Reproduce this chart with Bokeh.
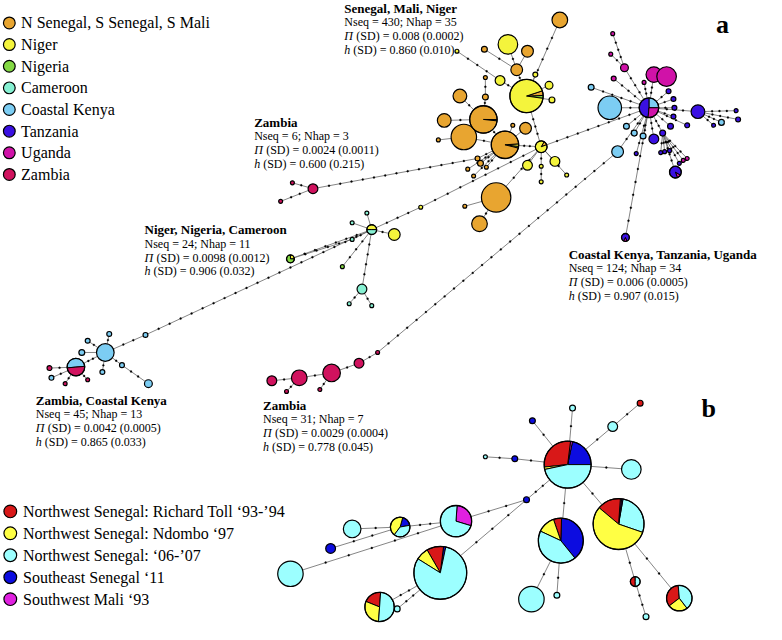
import math
from bokeh.plotting import figure
from bokeh.models import Range1d
from bokeh.core.properties import value
from bokeh.embed import file_html
from bokeh.resources import INLINE

FONT = value("Liberation Serif")

# ---------------- colours ----------------
colors_a = {"O": "#E8A530", "Y": "#F4F43C", "G": "#84D944", "C": "#86F0D2",
            "K": "#7CCDF3", "T": "#3A10E2", "U": "#D012A8", "Z": "#D0125E"}
colors_b = {"R": "#D81818", "Yb": "#FFFF44", "Cb": "#9CFFFF", "B": "#0C0CE0", "M": "#E020E0"}

legend_a_keys = ["O", "Y", "G", "C", "K", "T", "U", "Z"]
legend_a_labels = ["N Senegal, S Senegal, S Mali", "Niger", "Nigeria", "Cameroon",
                   "Coastal Kenya", "Tanzania", "Uganda", "Zambia"]
legend_b_keys = ["R", "Yb", "Cb", "B", "M"]
legend_b_labels = ["Northwest Senegal: Richard Toll \u201893-\u201994",
                   "Northwest Senegal: Ndombo \u201897",
                   "Northwest Senegal: \u201806-\u201907",
                   "Southeast Senegal \u201811",
                   "Southwest Mali \u201893"]

# ---------------- panel a: haplotypes (name, x, y, radius, colour key or "pie") ----------------
senegal_nodes = [
    ("a1", 571, 20, 8, "O"), ("a2", 518, 45, 10, "Y"), ("a3", 494, 50, 3, "O"),
    ("a4", 538, 52, 6, "O"), ("a5", 527, 71, 6, "O"), ("a6", 510, 82, 5, "Y"),
    ("a7", 546, 76, 2.5, "Y"), ("a8", 537, 98, 17, "pie"), ("a9", 560, 87, 4, "Y"),
    ("a10", 563, 102, 3, "Y"), ("a11", 495, 79, 2, "O"), ("a12", 495, 99, 3, "O"),
    ("a13", 469, 98, 7, "O"), ("a14", 493, 122, 14, "pie"), ("a15", 453, 123, 7, "O"),
    ("a16", 473, 140, 13, "O"), ("a17", 515, 148, 14, "pie"), ("a18", 536, 131, 6, "O"),
    ("a19", 523, 128, 2, "O"), ("a20", 447, 143, 2, "O"), ("a21", 552, 150, 6, "pie"),
    ("a22", 538, 169, 5, "Y"), ("a23", 566, 165, 5, "Y"), ("a24", 552, 170, 2, "Y"),
    ("a25", 552, 186, 2, "Y"), ("a26", 578, 179, 2, "Y"), ("a27", 487, 162, 2.5, "O"),
    ("a28", 490, 167, 3, "O"), ("a29", 496, 171, 2, "O"), ("a30", 477, 173, 2, "O"),
    ("a31", 483, 180, 2, "O"), ("a32", 506, 202, 15, "O"), ("a33", 489, 229, 8, "O"),
    ("a34", 474, 211, 2, "O"), ("a35", 466, 52, 2, "Y"), ("a36", 429, 212, 2, "Y"),
]
west_central_nodes = [
    ("a37", 379, 235, 5, "pie"), ("a38", 402, 240, 6, "Y"), ("a39", 374, 218, 2, "C"),
    ("a40", 359, 228, 2, "C"), ("a41", 359, 245, 2, "C"), ("a42", 296, 265, 4, "pie"),
    ("a43", 349, 273, 2, "G"), ("a44", 369, 296, 5, "C"), ("a45", 356, 311, 2, "C"),
    ("a46", 379, 313, 2, "C"),
]
zambia_north_nodes = [("a47", 319, 193, 5, "Z"), ("a48", 298, 187, 2, "Z"), ("a49", 286, 206, 2, "Z")]
zambia_kenya_nodes = [
    ("a50", 107, 361, 9, "K"), ("a51", 77, 376, 9, "pie"), ("a52", 111, 342, 2.5, "K"),
    ("a53", 89, 349, 2.5, "K"), ("a54", 83, 361, 3, "K"), ("a55", 104, 381, 2.5, "K"),
    ("a56", 124, 374, 2.5, "K"), ("a57", 151, 393, 4, "K"), ("a58", 52, 387, 2.5, "K"),
    ("a59", 148, 343, 2.5, "K"), ("a60", 50, 377, 2.5, "Z"), ("a61", 66, 393, 2, "Z"),
    ("a62", 89, 389, 2, "Z"),
]
zambia_south_nodes = [
    ("a63", 277, 390, 5, "Z"), ("a64", 305, 387, 8, "Z"), ("a65", 338, 382, 9, "Z"),
    ("a66", 366, 372, 5, "Z"), ("a67", 385, 361, 2, "Z"), ("a68", 292, 401, 2, "Z"),
    ("a69", 326, 399, 2, "Z"),
]
east_nodes = [
    ("a70", 662, 110, 10, "pie"), ("a71", 622, 110, 12, "K"), ("a72", 667, 76, 8, "U"),
    ("a73", 680, 78, 10, "U"), ("a74", 637, 69, 4, "U"), ("a75", 625, 34, 2, "U"),
    ("a76", 623, 55, 2, "U"), ("a77", 626, 80, 2.5, "U"), ("a78", 657, 84, 2, "U"),
    ("a79", 603, 89, 3, "K"), ("a80", 712, 114, 7, "T"), ("a81", 751, 113, 2, "T"),
    ("a82", 753, 122, 2.5, "T"), ("a83", 728, 128, 2, "T"), ("a84", 736, 125, 3, "K"),
    ("a85", 682, 93, 2.5, "T"), ("a86", 687, 101, 2.5, "T"), ("a87", 688, 110, 2.5, "T"),
    ("a88", 687, 119, 2.5, "T"), ("a89", 701, 128, 2.5, "T"), ("a90", 684, 129, 3, "T"),
    ("a91", 639, 129, 3, "K"), ("a92", 647, 136, 3, "K"), ("a93", 656, 139, 3, "K"),
    ("a94", 667, 142, 5, "T"), ("a95", 676, 136, 3, "T"), ("a96", 674, 156, 2, "T"),
    ("a97", 678, 155, 2, "T"), ("a98", 683, 154, 2, "T"), ("a99", 693, 167, 2, "T"),
    ("a100", 697, 164, 2, "U"), ("a101", 701, 162, 2, "U"), ("a102", 689, 176, 6, "pie"),
    ("a103", 649, 157, 2, "T"), ("a104", 630, 155, 6, "K"), ("a105", 638, 243, 4, "pie"),
]
# pie compositions: start angle (deg, counter-clockwise) and fractions
a_pies = {
    "a8": (-8, [("G", 0.028), ("O", 0.045), ("Y", 0.927)]),
    "a14": (-6, [("Y", 0.015), ("O", 0.985)]),
    "a17": (-14, [("G", 0.02), ("Y", 0.03), ("O", 0.95)]),
    "a21": (20, [("O", 0.11), ("Y", 0.89)]),
    "a37": (0, [("Y", 0.5), ("C", 0.5)]),
    "a42": (0, [("Y", 0.25), ("G", 0.75)]),
    "a51": (5, [("K", 0.5), ("Z", 0.5)]),
    "a70": (0, [("K", 0.25), ("T", 0.486), ("U", 0.264)]),
    "a102": (290, [("U", 0.11), ("T", 0.89)]),
    "a105": (240, [("U", 0.15), ("T", 0.85)]),
}
# links: (from, to, number of intermediate mutation steps)
a_links = [
    ("a8", "a1", 4), ("a5", "a8", 1), ("a2", "a5", 1), ("a4", "a5", 0), ("a3", "a5", 1),
    ("a35", "a6", 3), ("a6", "a8", 1), ("a7", "a8", 0), ("a9", "a8", 0), ("a10", "a8", 0),
    ("a8", "a21", 3), ("a11", "a12", 1), ("a12", "a14", 1), ("a13", "a14", 1),
    ("a14", "a17", 1), ("a15", "a14", 1), ("a16", "a17", 1), ("a20", "a16", 0),
    ("a19", "a17", 0), ("a18", "a17", 0), ("a17", "a21", 2),
    ("a27", "a17", 1), ("a28", "a17", 1), ("a29", "a17", 1), ("a30", "a17", 2), ("a31", "a17", 2),
    ("a32", "a21", 3), ("a33", "a32", 1), ("a34", "a32", 0),
    ("a21", "a22", 0), ("a21", "a23", 0), ("a21", "a24", 1), ("a24", "a25", 1), ("a21", "a26", 2),
    ("a21", "a70", 8), ("a37", "a36", 3), ("a36", "a21", 8),
    ("a47", "a27", 13), ("a48", "a47", 1), ("a49", "a47", 2),
    ("a37", "a38", 1), ("a39", "a37", 0), ("a40", "a37", 0), ("a41", "a37", 1),
    ("a42", "a41", 4), ("a42", "a37", 6), ("a43", "a37", 3), ("a44", "a37", 4),
    ("a45", "a44", 1), ("a46", "a44", 1),
    ("a50", "a59", 2), ("a59", "a37", 19),
    ("a51", "a50", 2), ("a52", "a50", 1), ("a53", "a50", 1), ("a54", "a50", 0), ("a55", "a50", 1),
    ("a56", "a50", 1), ("a56", "a57", 2), ("a58", "a51", 1), ("a60", "a51", 1),
    ("a61", "a51", 1), ("a62", "a51", 1),
    ("a63", "a64", 1), ("a64", "a65", 1), ("a65", "a66", 1), ("a66", "a67", 1),
    ("a68", "a64", 1), ("a69", "a65", 1), ("a67", "a104", 24),
    ("a70", "a71", 1), ("a70", "a72", 2), ("a72", "a73", 0), ("a70", "a74", 3),
    ("a74", "a75", 3), ("a74", "a76", 1), ("a70", "a77", 3), ("a70", "a78", 2),
    ("a70", "a79", 4), ("a70", "a80", 3), ("a80", "a81", 3), ("a80", "a82", 3),
    ("a80", "a83", 1), ("a80", "a84", 2), ("a70", "a85", 1), ("a70", "a86", 1),
    ("a70", "a87", 1), ("a70", "a88", 1), ("a70", "a89", 2), ("a70", "a90", 1),
    ("a70", "a91", 1), ("a70", "a92", 1), ("a70", "a93", 1), ("a70", "a94", 2),
    ("a70", "a95", 2), ("a95", "a96", 1), ("a95", "a97", 1), ("a95", "a98", 1),
    ("a95", "a99", 3), ("a95", "a100", 3), ("a95", "a101", 3), ("a95", "a102", 4),
    ("a70", "a103", 3), ("a70", "a104", 3), ("a70", "a105", 8),
]

# ---------------- panel b ----------------
b_nodes = [
    ("b1", 579, 476, 24, "pie"), ("b2", 644, 481, 10, "Cb"), ("b3", 543, 431, 3, "B"),
    ("b4", 584, 418, 3, "Cb"), ("b5", 625, 437, 5, "Cb"), ("b6", 653, 413, 3, "R"),
    ("b7", 525, 470, 3, "B"), ("b8", 495, 468, 2, "Cb"), ("b9", 537, 512, 3, "B"),
    ("b10", 631, 537, 26, "pie"), ("b11", 572, 554, 23, "pie"), ("b12", 542, 614, 13, "Cb"),
    ("b13", 568, 610, 3, "Cb"), ("b14", 648, 596, 5, "pie"), ("b15", 659, 632, 3, "Cb"),
    ("b16", 693, 613, 13, "pie"), ("b17", 449, 587, 27, "pie"), ("b18", 387, 622, 15, "pie"),
    ("b19", 405, 624, 3, "Cb"), ("b20", 465, 534, 16, "pie"), ("b21", 408, 540, 10, "pie"),
    ("b22", 359, 542, 9, "Cb"), ("b23", 337, 562, 5, "B"), ("b24", 296, 588, 13, "Cb"),
]
b_pies = {
    "b1": (0, [("B", 78 / 360), ("M", 5 / 360), ("R", 103 / 360), ("Yb", 6 / 360), ("Cb", 168 / 360)]),
    "b10": (-19, [("Cb", 99 / 360), ("B", 3 / 360), ("M", 3 / 360), ("R", 54 / 360), ("Yb", 201 / 360)]),
    "b11": (-51, [("B", 139 / 360), ("R", 21 / 360), ("Yb", 46 / 360), ("Cb", 154 / 360)]),
    "b14": (90, [("R", 0.5), ("Cb", 0.5)]),
    "b16": (95, [("R", 0.34), ("Yb", 0.25), ("Cb", 0.41)]),
    "b17": (78, [("B", 5 / 360), ("R", 37 / 360), ("Yb", 28 / 360), ("Cb", 290 / 360)]),
    "b18": (86, [("R", 0.2), ("Yb", 0.3), ("Cb", 0.5)]),
    "b20": (-17, [("M", 103 / 360), ("Cb", 257 / 360)]),
    "b21": (10, [("B", 0.18), ("Yb", 0.44), ("Cb", 0.38)]),
}
b_links = [
    ("b1", "b3", 1), ("b1", "b4", 1), ("b1", "b5", 1), ("b5", "b6", 1), ("b1", "b7", 1),
    ("b7", "b8", 1), ("b1", "b2", 1), ("b1", "b9", 2), ("b1", "b11", 1), ("b1", "b10", 1),
    ("b9", "b20", 2), ("b9", "b17", 3), ("b20", "b21", 2), ("b20", "b24", 5),
    ("b21", "b22", 1), ("b21", "b23", 2), ("b17", "b18", 2), ("b17", "b19", 2),
    ("b11", "b12", 1), ("b11", "b13", 1), ("b10", "b14", 1), ("b14", "b15", 2), ("b10", "b16", 2),
]

# ---------------- summary statistics blocks ----------------
stat_titles = ["Senegal, Mali, Niger", "Zambia", "Niger, Nigeria, Cameroon",
               "Coastal Kenya, Tanzania, Uganda", "Zambia, Coastal Kenya", "Zambia"]
stat_nseq = ["Nseq = 430; Nhap = 35", "Nseq = 6; Nhap = 3", "Nseq = 24; Nhap = 11",
             "Nseq = 124; Nhap = 34", "Nseq = 45; Nhap = 13", "Nseq = 31; Nhap = 7"]
stat_pi = ["0.008 (0.0002)", "0.0024 (0.0011)", "0.0098 (0.0012)",
           "0.006 (0.0005)", "0.0042 (0.0005)", "0.0029 (0.0004)"]
stat_h = ["0.860 (0.010)", "0.600 (0.215)", "0.906 (0.032)",
          "0.907 (0.015)", "0.865 (0.033)", "0.778 (0.045)"]
stat_x = [351, 259, 147, 580, 36, 268]
stat_y = [8, 125, 235, 260, 410, 415]

# ---------------- figure ----------------
W, H = 766, 624
p = figure(width=W, height=H, x_range=Range1d(0, 782), y_range=Range1d(640, 0),
           output_backend="svg", toolbar_location=None, x_axis_type=None, y_axis_type=None,
           min_border=0, outline_line_color=None, background_fill_color="white")
p.grid.visible = False


def draw_network(nodes, pies, links, palette):
    nd = {n[0]: n for n in nodes}
    sx0, sy0, sx1, sy1, dx_, dy_ = [], [], [], [], [], []
    for a, b, steps in links:
        _, x1, y1, r1, _ = nd[a]
        _, x2, y2, r2, _ = nd[b]
        sx0.append(x1); sy0.append(y1); sx1.append(x2); sy1.append(y2)
        d = math.hypot(x2 - x1, y2 - y1)
        ux, uy = (x2 - x1) / d, (y2 - y1) / d
        ax, ay = x1 + ux * r1, y1 + uy * r1
        bx, by = x2 - ux * r2, y2 - uy * r2
        for k in range(1, steps + 1):
            t = k / (steps + 1)
            dx_.append(ax + (bx - ax) * t); dy_.append(ay + (by - ay) * t)
    p.segment(x0=sx0, y0=sy0, x1=sx1, y1=sy1, line_color="#666666", line_width=0.8)
    p.circle(x=dx_, y=dy_, radius=1.0, fill_color="black", line_color="black", line_width=0.3)
    single = [n for n in nodes if n[4] != "pie"]
    p.circle(x=[n[1] for n in single], y=[n[2] for n in single], radius=[n[3] for n in single],
             fill_color=[palette[n[4]] for n in single], line_color="black", line_width=1.2)
    wx, wy, wr, ws, we, wc = [], [], [], [], [], []
    for name, (start, parts) in pies.items():
        _, x, y, r, _ = nd[name]
        ang = start
        for key, frac in parts:
            wx.append(x); wy.append(y); wr.append(r)
            ws.append(math.radians(ang)); ang += frac * 360
            we.append(math.radians(ang)); wc.append(palette[key])
    p.wedge(x=wx, y=wy, radius=wr, start_angle=ws, end_angle=we, fill_color=wc,
            line_color="black", line_width=1.0)
    pn = [nd[k] for k in pies]
    p.circle(x=[n[1] for n in pn], y=[n[2] for n in pn], radius=[n[3] for n in pn],
             fill_color=None, line_color="black", line_width=1.3)


all_a = senegal_nodes + west_central_nodes + zambia_north_nodes + zambia_kenya_nodes + \
    zambia_south_nodes + east_nodes
draw_network(all_a, a_pies, a_links, colors_a)
draw_network(b_nodes, b_pies, b_links, colors_b)

# legends
la_y = [23 + i * 22.2 for i in range(len(legend_a_keys))]
p.circle(x=[9] * len(la_y), y=la_y, radius=6, fill_color=[colors_a[k] for k in legend_a_keys],
         line_color="black", line_width=1.2)
p.text(x=[21] * len(la_y), y=la_y, text=legend_a_labels, text_font=FONT, text_font_size="16px",
       text_baseline="middle", text_align="left", text_color="black")
lb_y = [524 + i * 22.5 for i in range(len(legend_b_keys))]
p.circle(x=[10] * len(lb_y), y=lb_y, radius=6.5, fill_color=[colors_b[k] for k in legend_b_keys],
         line_color="black", line_width=1.2)
p.text(x=[23] * len(lb_y), y=lb_y, text=legend_b_labels, text_font=FONT, text_font_size="16px",
       text_baseline="middle", text_align="left", text_color="black")

# statistics blocks
LS = 14.3
p.text(x=stat_x, y=stat_y, text=stat_titles, text_font=FONT, text_font_size="13px",
       text_font_style="bold", text_baseline="middle", text_align="left")
p.text(x=stat_x, y=[y + LS for y in stat_y], text=stat_nseq, text_font=FONT, text_font_size="12px",
       text_baseline="middle", text_align="left")
y_pi = [y + 2 * LS for y in stat_y]
y_h = [y + 3 * LS for y in stat_y]
p.text(x=stat_x, y=y_pi, text=["\u03a0"] * 6, text_font=FONT, text_font_size="12px",
       text_font_style="italic", text_baseline="middle", text_align="left")
p.text(x=stat_x, y=y_pi, text=["(SD) = " + s for s in stat_pi], x_offset=12, text_font=FONT,
       text_font_size="12px", text_baseline="middle", text_align="left")
p.text(x=stat_x, y=y_h, text=["h"] * 6, text_font=FONT, text_font_size="12px",
       text_font_style="italic", text_baseline="middle", text_align="left")
p.text(x=stat_x, y=y_h, text=["(SD) = " + s for s in stat_h], x_offset=9, text_font=FONT,
       text_font_size="12px", text_baseline="middle", text_align="left")

# panel letters
p.text(x=[737, 723], y=[25, 418], text=["a", "b"], text_font=FONT, text_font_size="26px",
       text_font_style="bold", text_baseline="middle", text_align="center")

open("out.html", "w").write(file_html(p, INLINE))
